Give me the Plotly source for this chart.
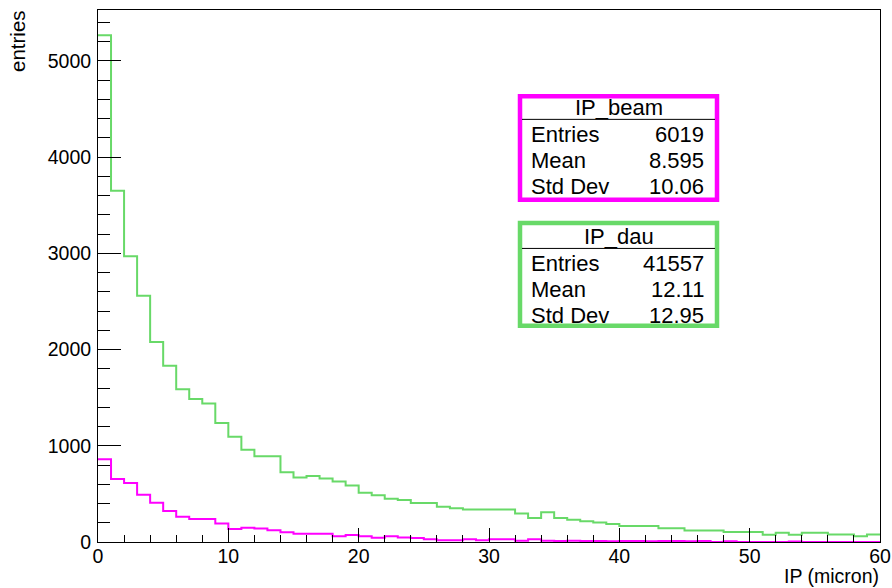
import numpy as np
import plotly.graph_objects as go

# Histogram binning: 60 bins of 1 micron from 0 to 60
bin_edges = list(range(0, 61))

# IP_dau bin contents
ip_dau = [5265, 3649, 2970, 2559, 2077, 1832, 1586, 1485, 1440, 1236,
          1094, 959, 890, 890, 724, 669, 685, 660, 628, 588,
          513, 485, 450, 436, 405, 405, 367, 350, 338, 338,
          338, 338, 295, 250, 308, 250, 232, 215, 203, 187,
          165, 165, 165, 143, 143, 120, 120, 120, 105, 105,
          105, 75, 95, 75, 95, 95, 78, 78, 60, 78]

# IP_beam bin contents
ip_beam = [859, 654, 613, 492, 409, 322, 263, 239, 239, 191,
           135, 149, 140, 121, 101, 87, 87, 87, 59, 73,
           59, 45, 59, 48, 41, 28, 17, 17, 28, 17,
           28, 28, 14, 28, 14, 10, 12, 10, 10, 8,
           10, 10, 8, 10, 10, 8, 10, 0, 8, 0,
           0, 0, 0, 5, 0, 0, 0, 0, 0, 0]

# Stats box contents
beam_stats = {"name": "IP_beam", "Entries": "6019", "Mean": "8.595", "Std Dev": "10.06"}
dau_stats = {"name": "IP_dau", "Entries": "41557", "Mean": "12.11", "Std Dev": "12.95"}

x_ticks = [0, 10, 20, 30, 40, 50, 60]
y_ticks = [0, 1000, 2000, 3000, 4000, 5000]

MAGENTA = "#ff00ff"
GREEN = "#68d968"
FONT = "Liberation Sans, Arial, Helvetica, sans-serif"

W, H = 892, 588
L, R, T, B = 98, 880, 10, 541.7


def xp(px):
    return (px - L) / (R - L)


def yp(py):
    return (B - py) / (B - T)


fig = go.Figure()

for vals, col, name in [(ip_dau, GREEN, "IP_dau"), (ip_beam, MAGENTA, "IP_beam")]:
    fig.add_trace(go.Scatter(
        x=bin_edges, y=list(vals) + [vals[-1]],
        mode="lines", line=dict(color=col, width=2, shape="hv"),
        name=name, showlegend=False, hoverinfo="skip"))

ymax = 1.05 * max(ip_dau)

fig.update_layout(
    width=W, height=H,
    margin=dict(l=L, r=W - R, t=T, b=H - B, pad=0),
    paper_bgcolor="white", plot_bgcolor="white",
    font=dict(family=FONT, color="black", size=19.5),
    xaxis=dict(range=[0, 60], tickvals=x_ticks, ticks="inside", ticklen=14,
               tickcolor="black", tickwidth=1, showgrid=False, zeroline=False,
               showline=True, linecolor="black", linewidth=1, mirror=True,
               minor=dict(dtick=2, ticks="inside", ticklen=7, tickcolor="black", tickwidth=1),
               tickfont=dict(size=19.5), ticklabelstandoff=-3, automargin=False),
    yaxis=dict(range=[0, ymax], tickvals=y_ticks, ticks="inside", ticklen=23,
               tickcolor="black", tickwidth=1, showgrid=False, zeroline=False,
               showline=True, linecolor="black", linewidth=1, mirror=True,
               minor=dict(dtick=200, ticks="inside", ticklen=12, tickcolor="black", tickwidth=1),
               tickfont=dict(size=19.5), ticklabelstandoff=2, automargin=False),
)

annotations = [
    dict(text="IP (micron)", x=1, xref="paper", xanchor="right",
         y=yp(588), yref="paper", yanchor="bottom", showarrow=False,
         borderpad=0, font=dict(size=19.5)),
    dict(text="entries", x=xp(18), xref="paper", xanchor="center",
         y=yp(8), yref="paper", yanchor="top", textangle=-90, showarrow=False,
         font=dict(size=20.5)),
]
shapes = []


def stats_box(stats, col, top, bottom, sep, ys):
    left, right = 518, 719
    shapes.append(dict(type="rect", xref="paper", yref="paper",
                       x0=xp(left + 2), x1=xp(right - 2), y0=yp(bottom - 2), y1=yp(top + 2),
                       line=dict(color=col, width=4.5), fillcolor="white", layer="above"))
    shapes.append(dict(type="line", xref="paper", yref="paper",
                       x0=xp(left + 4), x1=xp(right - 4), y0=yp(sep), y1=yp(sep),
                       line=dict(color="black", width=1), layer="above"))
    annotations.append(dict(text=stats["name"], x=xp((left + right) / 2), xref="paper",
                            xanchor="center", y=yp(ys[0]), yref="paper", yanchor="middle",
                            showarrow=False, font=dict(size=22)))
    for key, yy in zip(["Entries", "Mean", "Std Dev"], ys[1:]):
        annotations.append(dict(text=key, x=xp(529), xref="paper", xanchor="left",
                                y=yp(yy), yref="paper", yanchor="middle",
                                showarrow=False, font=dict(size=22)))
        annotations.append(dict(text=stats[key], x=xp(706), xref="paper", xanchor="right",
                                y=yp(yy), yref="paper", yanchor="middle",
                                showarrow=False, font=dict(size=22)))


stats_box(beam_stats, MAGENTA, 94.3, 201.7, 119.3, [107.5, 134, 160.5, 186.5])
stats_box(dau_stats, GREEN, 221, 327.5, 248.3, [236.5, 263, 289, 315])

fig.update_layout(annotations=annotations, shapes=shapes)
fig.write_html("out.html")
